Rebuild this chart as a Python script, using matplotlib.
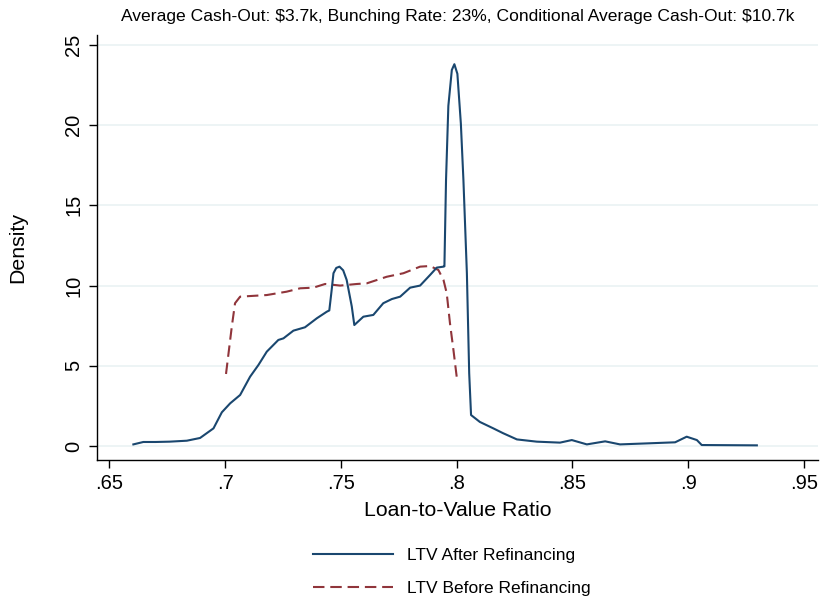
import matplotlib
matplotlib.use("Agg")
import matplotlib.pyplot as plt

# LTV after refinancing (density)
after_x = [0.6604, 0.6647, 0.6700, 0.6760, 0.6835, 0.6892, 0.6950, 0.6986, 0.7022, 0.7065,
           0.7108, 0.7144, 0.7180, 0.7230, 0.7252, 0.7295, 0.7345, 0.7396, 0.7439, 0.7450,
           0.7460, 0.7468, 0.7480, 0.7494, 0.7510, 0.7525, 0.7547, 0.7558, 0.7597, 0.7640,
           0.7683, 0.7720, 0.7756, 0.7799, 0.7842, 0.7885, 0.7914, 0.7943, 0.7947, 0.7954,
           0.7964, 0.7979, 0.7990, 0.8003, 0.8018, 0.8029, 0.8044, 0.8054, 0.8062, 0.8100,
           0.8158, 0.8200, 0.8260, 0.8346, 0.8446, 0.8497, 0.8562, 0.8641, 0.8705, 0.8835,
           0.8943, 0.8993, 0.9037, 0.9058, 0.9296]
after_y = [0.10, 0.25, 0.25, 0.27, 0.33, 0.50, 1.10, 2.10, 2.66, 3.18,
           4.32, 5.05, 5.88, 6.61, 6.71, 7.19, 7.40, 7.96, 8.37, 8.45,
           9.70, 10.77, 11.10, 11.18, 10.95, 10.35, 8.70, 7.54, 8.06, 8.17,
           8.90, 9.16, 9.31, 9.87, 10.00, 10.66, 11.12, 11.18, 11.20, 16.60,
           21.20, 23.44, 23.80, 23.20, 20.10, 16.60, 10.77, 4.53, 1.93, 1.50,
           1.10, 0.80, 0.41, 0.27, 0.21, 0.37, 0.10, 0.29, 0.10, 0.17,
           0.23, 0.58, 0.37, 0.06, 0.04]

# LTV before refinancing (density)
before_x = [0.7004, 0.7029, 0.7043, 0.7065, 0.7180, 0.7266, 0.7324, 0.7381, 0.7432, 0.7497,
            0.7569, 0.7612, 0.7698, 0.7770, 0.7842, 0.7885, 0.7921, 0.7943, 0.7957, 0.7971,
            0.7986, 0.8000]
before_y = [4.49, 7.44, 8.90, 9.31, 9.41, 9.62, 9.83, 9.87, 10.10, 10.00,
            10.10, 10.14, 10.55, 10.77, 11.18, 11.22, 10.97, 10.35, 9.52, 7.65,
            5.98, 4.32]

x_ticks = [0.65, 0.70, 0.75, 0.80, 0.85, 0.90, 0.95]
x_tick_labels = [".65", ".7", ".75", ".8", ".85", ".9", ".95"]
y_ticks = [0, 5, 10, 15, 20, 25]

title = ("Average Cash-Out: \\$3.7k, Bunching Rate: 23%, "
         "Conditional Average Cash-Out: \\$10.7k")

plt.rcParams['font.family'] = ['Liberation Sans', 'DejaVu Sans']

fig = plt.figure(figsize=(8.21, 6.02), dpi=100)
ax = fig.add_axes([97/821, 1-460/602, (818-97)/821, (460-35)/602])

navy = "#1a476f"
maroon = "#90353b"

for yt in y_ticks:
    ax.axhline(yt, color="#eaf2f3", lw=1.2, zorder=0)

ax.plot(after_x, after_y, color=navy, lw=1.5, label="LTV After Refinancing", zorder=3)
ax.plot(before_x, before_y, color=maroon, lw=1.5, dashes=(5.5, 2.8),
        label="LTV Before Refinancing", zorder=2)

ax.set_xlim(0.6447, 0.956)
ax.set_ylim(-0.873, 25.62)
ax.set_xticks(x_ticks)
ax.set_xticklabels(x_tick_labels)
ax.set_yticks(y_ticks)
ax.set_yticklabels([str(v) for v in y_ticks], rotation=90, va="center")
ax.tick_params(axis="both", direction="out", length=6, width=1, labelsize=14.5, colors="black")
ax.tick_params(axis="x", pad=4)
ax.tick_params(axis="y", pad=4)

for s in ["top", "right"]:
    ax.spines[s].set_visible(False)
for s in ["left", "bottom"]:
    ax.spines[s].set_linewidth(1.0)

ax.set_xlabel("Loan-to-Value Ratio", fontsize=15.3)
ax.set_ylabel("Density", fontsize=15.3)
ax.xaxis.set_label_coords(0.5, (460-510)/425, transform=ax.transAxes)
ax.yaxis.set_label_coords((18-97)/721, 0.5, transform=ax.transAxes)
ax.xaxis.label.set_va("center")
ax.yaxis.label.set_va("center")
ax.set_title(title, fontsize=12.6, pad=10)

fig.legend(loc="center", bbox_to_anchor=(452/821, 1-572/602), frameon=False,
           fontsize=12.5, handlelength=4.6, handletextpad=0.8, labelspacing=1.0)

fig.savefig("out.png", dpi=100)
